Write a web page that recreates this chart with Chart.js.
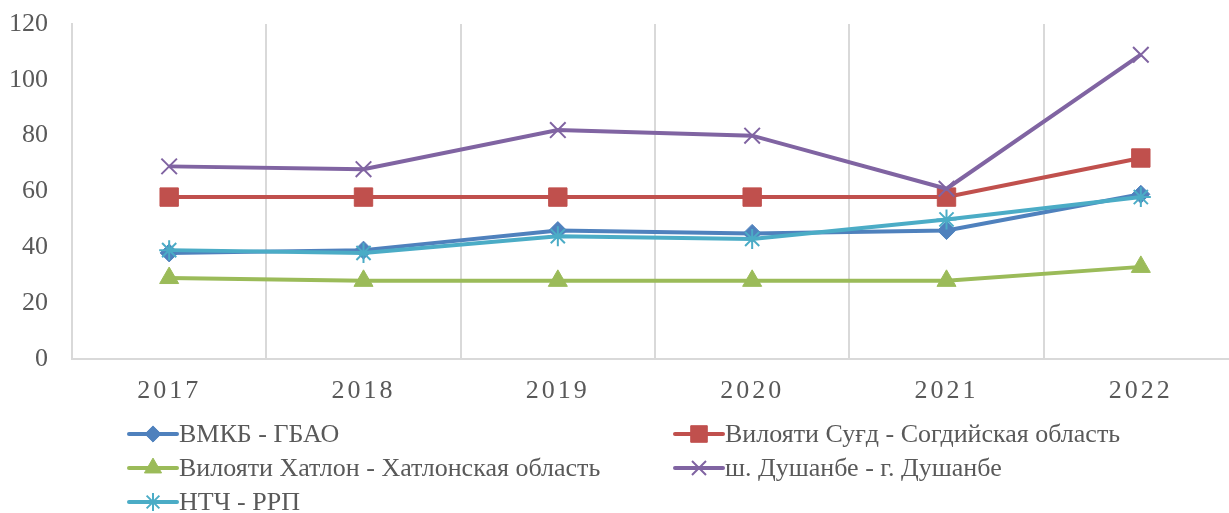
<!DOCTYPE html>
<html>
<head>
<meta charset="utf-8">
<script src="https://cdn.jsdelivr.net/npm/chart.js@4/dist/chart.umd.min.js"></script>
<style>
html,body{margin:0;padding:0;background:#fff;overflow:hidden;}
#wrap{width:1229px;height:513px;overflow:hidden;position:relative;}
canvas{display:block;}
</style>
</head>
<body>
<div id="wrap"><canvas id="c" width="1229" height="513"></canvas></div>
<script>
const years = ['2017','2018','2019','2020','2021','2022'];
const seriesNames = [
  'ВМКБ - ГБАО',
  'Вилояти Суғд - Согдийская область',
  'Вилояти Хатлон - Хатлонская область',
  'ш. Душанбе - г. Душанбе',
  'НТЧ - РРП'
];
const gbao = [38, 39, 46, 45, 46, 59];
const sughd = [58, 58, 58, 58, 58, 72];
const khatlon = [29, 28, 28, 28, 28, 33];
const dushanbe = [69, 68, 82, 80, 61, 109];
const rrp = [39, 38, 44, 43, 50, 58];
const yTicks = [0, 20, 40, 60, 80, 100, 120];

const colors = ['#4F81BD', '#C0504D', '#9BBB59', '#8064A2', '#4BACC6'];
const styles = [
  {pointStyle:'rectRot', pointRadius:9, pointBorderWidth:1},
  {pointStyle:'rect', pointRadius:13, pointBorderWidth:1},
  {pointStyle:'triangle', pointRadius:11, pointBorderWidth:1},
  {pointStyle:'crossRot', pointRadius:11, pointBorderWidth:2},
  {pointStyle:'star', pointRadius:10, pointBorderWidth:2}
];
const allData = [gbao, sughd, khatlon, dushanbe, rrp];

class SpacedCategory extends Chart.CategoryScale {
  drawLabels(area) {
    const ctx = this.ctx;
    ctx.save();
    ctx.letterSpacing = '3px';
    super.drawLabels(area);
    ctx.restore();
  }
}
SpacedCategory.id = 'spacedCategory';
SpacedCategory.defaults = Chart.CategoryScale.defaults;
Chart.register(SpacedCategory);

const FONT = "'Liberation Serif', 'Times New Roman', serif";
const PLOT_RIGHT = 1238; // plot area continues past the right edge of the picture

const datasets = allData.map((d, i) => ({
  label: seriesNames[i],
  data: d,
  borderColor: colors[i],
  backgroundColor: colors[i],
  borderWidth: 4,
  pointStyle: styles[i].pointStyle,
  pointRadius: styles[i].pointRadius,
  pointHoverRadius: styles[i].pointRadius,
  pointBorderWidth: styles[i].pointBorderWidth,
  pointBackgroundColor: colors[i],
  pointBorderColor: colors[i],
  tension: 0,
  clip: false,
  order: 10 - i
}));

const extendPlot = {
  id: 'extendPlot',
  afterLayout(chart) {
    const x = chart.scales.x;
    x.right = PLOT_RIGHT;
    x.width = PLOT_RIGHT - x.left;
    x.configure();
    x._gridLineItems = null;
    x._labelItems = null;
    chart.chartArea.right = PLOT_RIGHT;
    chart.chartArea.width = PLOT_RIGHT - chart.chartArea.left;
  }
};

const legendPlugin = {
  id: 'customLegend',
  afterDraw(chart) {
    const ctx = chart.ctx;
    const colX = [129, 675];
    const rowY = [434, 468, 502];
    ctx.save();
    chart.data.datasets.forEach((ds, i) => {
      const x = colX[i % 2];
      const y = rowY[Math.floor(i / 2)];
      ctx.strokeStyle = ds.borderColor;
      ctx.lineWidth = 4;
      ctx.lineCap = 'round';
      ctx.beginPath();
      ctx.moveTo(x, y);
      ctx.lineTo(x + 48, y);
      ctx.stroke();
      ctx.lineCap = 'butt';
      ctx.lineWidth = ds.pointBorderWidth;
      ctx.fillStyle = ds.pointBackgroundColor;
      ctx.strokeStyle = ds.pointBorderColor;
      Chart.helpers.drawPoint(ctx, {pointStyle: ds.pointStyle, radius: ds.pointRadius * 0.9, rotation: 0, borderWidth: ds.pointBorderWidth}, x + 24, y);
      ctx.fillStyle = '#595959';
      ctx.font = "26px " + FONT;
      ctx.textBaseline = 'middle';
      ctx.textAlign = 'left';
      ctx.fillText(ds.label, x + 50, y + 1);
    });
    ctx.restore();
  }
};

new Chart(document.getElementById('c'), {
  type: 'line',
  data: { labels: years, datasets },
  options: {
    responsive: false,
    animation: false,
    devicePixelRatio: 1,
    layout: { padding: { top: 24, right: 0, left: 0, bottom: 0 } },
    plugins: { legend: { display: false }, tooltip: { enabled: false } },
    scales: {
      x: {
        type: 'spacedCategory',
        offset: true,
        grid: { offset: true, color: '#d9d9d9', lineWidth: 2, drawTicks: false },
        border: { color: '#d9d9d9', width: 2 },
        ticks: { font: { family: FONT, size: 26 }, color: '#595959', padding: 17, maxRotation: 0 },
        afterFit: s => { s.height = 154; s.paddingLeft = 0; s.paddingRight = 0; }
      },
      y: {
        min: 0, max: 120,
        afterBuildTicks: s => { s.ticks = yTicks.map(v => ({ value: v })); },
        grid: { display: false, drawTicks: false },
        border: { display: true, color: '#d9d9d9', width: 2 },
        ticks: { font: { family: FONT, size: 26 }, color: '#595959', padding: 24 },
        afterFit: s => { s.width = 72; s.paddingTop = 0; s.paddingBottom = 0; }
      }
    }
  },
  plugins: [extendPlot, legendPlugin]
});
</script>
</body>
</html>
